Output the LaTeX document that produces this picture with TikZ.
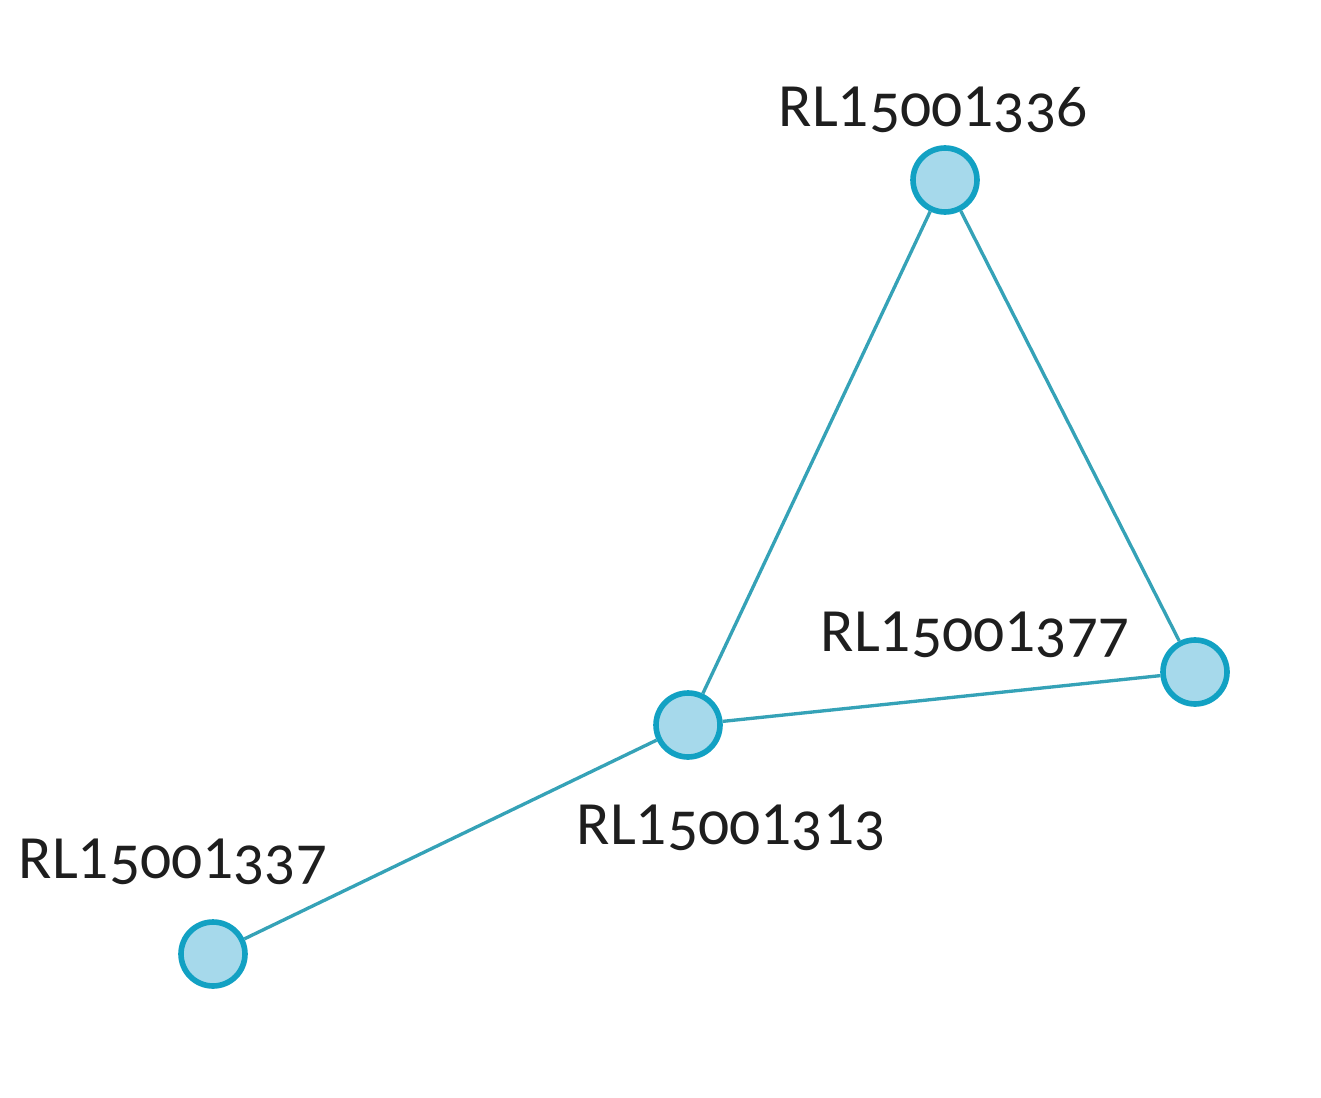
\documentclass[tikz,border=0pt]{standalone}
\usepackage{fontspec}
\setmainfont[Numbers=OldStyle]{Carlito}
\usepackage{tikz}
\definecolor{nodefill}{HTML}{A6D9EB}
\definecolor{noderim}{HTML}{12A1C3}
\definecolor{edgeteal}{HTML}{35A2B7}
\definecolor{labeltext}{HTML}{1E1E1E}
% lining figure one, the other digits stay old style
\newcommand{\tallone}{{\addfontfeatures{Numbers=Lining}1}}
\tikzset{
    strain/.style = {circle, draw=noderim, fill=nodefill, line width = 3.2pt, minimum size = 1.28cm, inner sep = 0pt},
    strainname/.style = {anchor = base, text = labeltext, font = \fontsize{35}{40}\selectfont, inner sep = 0pt},
    link/.style = {edgeteal, line width = 1.9pt}
}

\begin{document}
\begin{tikzpicture}[x = 0.02cm, y = -0.02cm]
            \useasboundingbox (0, 0) rectangle (1321, 1098);
            \node[strain] (n1336) at (945, 180) {};
            \node[strain] (n1377) at (1195, 672) {};
            \node[strain] (n1313) at (688, 725) {};
            \node[strain] (n1337) at (213, 954) {};
            \draw[link] (n1313) -- (n1336);
            \draw[link] (n1336) -- (n1377);
            \draw[link] (n1313) -- (n1377);
            \draw[link] (n1337) -- (n1313);
            \node[strainname] (t1336) at (933, 127) {RL\tallone500\tallone336};
            \node[strainname] (t1377) at (975, 651) {RL\tallone500\tallone377};
            \node[strainname] (t1313) at (731, 844) {RL\tallone500\tallone3\tallone3};
            \node[strainname] (t1337) at (173, 878) {RL\tallone500\tallone337};
        \end{tikzpicture}
\end{document}
